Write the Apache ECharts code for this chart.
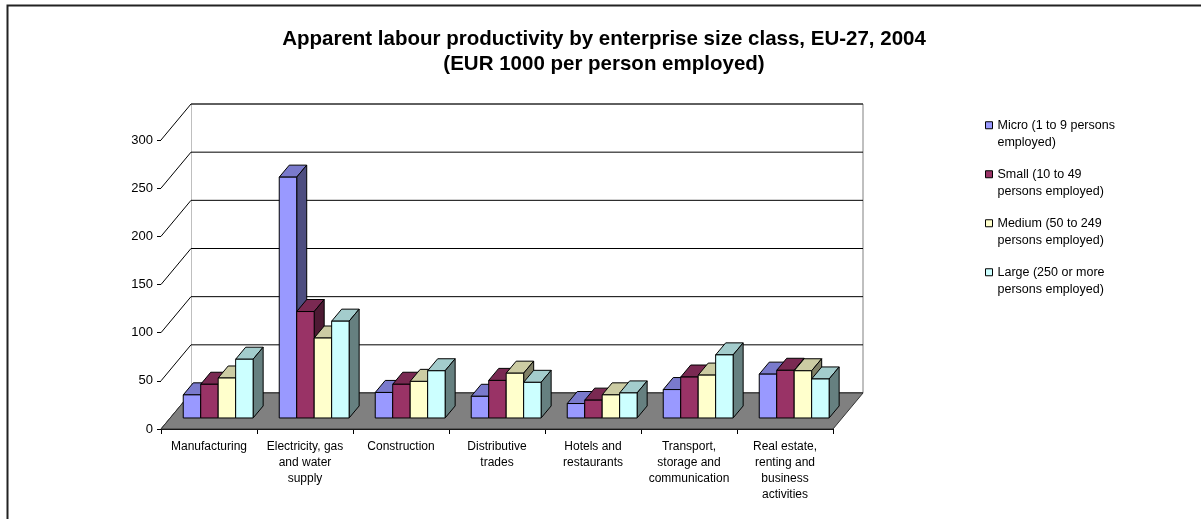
<!DOCTYPE html>
<html><head><meta charset="utf-8">
<script src="https://cdn.jsdelivr.net/npm/echarts@6/dist/echarts.min.js"></script>
<style>html,body{margin:0;padding:0;background:#fff}#c{width:1201px;height:519px}</style>
</head><body><div id="c"></div>
<script>
// ---- data ----
const categories = ['Manufacturing', 'Electricity, gas\nand water\nsupply', 'Construction', 'Distributive\ntrades', 'Hotels and\nrestaurants', 'Transport,\nstorage and\ncommunication', 'Real estate,\nrenting and\nbusiness\nactivities'];
const seriesNames = ['Micro (1 to 9 persons employed)', 'Small (10 to 49 persons employed)', 'Medium (50 to 249 persons employed)', 'Large (250 or more persons employed)'];
const legendLabels = ['Micro (1 to 9 persons\nemployed)', 'Small (10 to 49\npersons employed)', 'Medium (50 to 249\npersons employed)', 'Large (250 or more\npersons employed)'];
const micro  = [24, 250, 26.5, 22.5, 15, 29.5, 45.5];
const small  = [35, 110.5, 35, 39, 18.5, 42.5, 49.5];
const medium = [41.5, 83, 38, 46.5, 24, 44.5, 49];
const large  = [61, 100.5, 49, 37, 26, 65.5, 40.5];
const yTicks = [0, 50, 100, 150, 200, 250, 300];
const titleText = 'Apparent labour productivity by enterprise size class, EU-27, 2004\n(EUR 1000 per person employed)';

// ---- styling / projection ----
const values = [micro, small, medium, large];
const frontCol = ['#9999FF', '#993366', '#FFFFCC', '#CCFFFF'];
const topCol   = ['#7A7ACC', '#7A2952', '#CCCCA3', '#A3CCCC'];
const sideCol  = ['#4D4D80', '#4D1A33', '#808066', '#668080'];
const DX = 30, DY = -36;        // full depth offset of the 3D box
const F0 = 0.306, F1 = 0.64;    // bar depth range (fractions)
const BAR_FRAC = 0.182;         // bar width as a fraction of category width

function barRender(si) {
  return function (params, api) {
    const ci = api.value(0), v = api.value(1);
    const base = api.coord([ci, 0]);
    const top = api.coord([ci, v]);
    const cw = api.size([1, 0])[0];
    const bw = cw * BAR_FRAC;
    const x0 = base[0] - 2 * bw + si * bw + F0 * DX;
    const x1 = x0 + bw;
    const yb = base[1] + F0 * DY;
    const yt = top[1] + F0 * DY;
    const dx = (F1 - F0) * DX, dy = (F1 - F0) * DY;
    const st = { stroke: '#000', lineWidth: 1, lineJoin: 'round' };
    return { type: 'group', children: [
      { type: 'polygon', shape: { points: [[x0, yt], [x1, yt], [x1 + dx, yt + dy], [x0 + dx, yt + dy]] }, style: Object.assign({ fill: topCol[si] }, st) },
      { type: 'polygon', shape: { points: [[x1, yb], [x1, yt], [x1 + dx, yt + dy], [x1 + dx, yb + dy]] }, style: Object.assign({ fill: sideCol[si] }, st) },
      { type: 'rect', shape: { x: x0, y: yt, width: bw, height: yb - yt }, style: Object.assign({ fill: frontCol[si] }, st) }
    ]};
  };
}

function wallRender(params, api) {
  const n = categories.length;
  const c0 = api.coord([0, 0]);
  const cN = api.coord([n - 1, 0]);
  const cw = api.size([1, 0])[0];
  const xl = c0[0] - cw / 2, xr = cN[0] + cw / 2;
  const yMax = api.coord([0, yTicks[yTicks.length - 1]])[1];
  const y0 = c0[1];
  const ch = [];
  ch.push({ type: 'polygon', shape: { points: [[xl + DX, yMax + DY], [xr + DX, yMax + DY], [xr + DX, y0 + DY], [xl + DX, y0 + DY]] }, style: { fill: '#fff', stroke: '#808080', lineWidth: 1 } });
  ch.push({ type: 'polygon', shape: { points: [[xl, yMax], [xl + DX, yMax + DY], [xl + DX, y0 + DY], [xl, y0]] }, style: { fill: '#fff', stroke: null } });
  yTicks.forEach(function (t) {
    const y = api.coord([0, t])[1];
    ch.push({ type: 'polyline', shape: { points: [[xl, y], [xl + DX, y + DY], [xr + DX, y + DY]] }, style: { stroke: '#000', lineWidth: 1, fill: null } });
  });
  ch.push({ type: 'polygon', shape: { points: [[xl, y0], [xr, y0], [xr + DX, y0 + DY], [xl + DX, y0 + DY]] }, style: { fill: '#808080', stroke: '#333', lineWidth: 1 } });
  return { type: 'group', children: ch };
}

const series = [{
  type: 'custom', name: '_walls', renderItem: wallRender, data: [[0, 0]], clip: false, z: 1, silent: true
}];
values.forEach(function (arr, si) {
  series.push({
    type: 'custom', name: seriesNames[si], clip: false, z: 2,
    itemStyle: { color: frontCol[si], borderColor: '#000', borderWidth: 1 },
    renderItem: barRender(si),
    data: arr.map(function (v, i) { return [i, v]; })
  });
});

const FONT = 'Liberation Sans, Arial, sans-serif';
const chart = echarts.init(document.getElementById('c'));
chart.setOption({
  animation: false,
  backgroundColor: '#fff',
  textStyle: { fontFamily: FONT },
  title: {
    text: titleText, left: 599, top: 22, textAlign: 'center',
    textStyle: { fontSize: 20.5, fontWeight: 'bold', color: '#000', lineHeight: 25, fontFamily: FONT }
  },
  legend: {
    data: seriesNames, orient: 'vertical', left: 980, top: 94,
    icon: 'rect', itemWidth: 7, itemHeight: 7, itemGap: -3.5,
    itemStyle: { borderColor: '#000', borderWidth: 1 },
    formatter: function (name) { return ' \n' + legendLabels[seriesNames.indexOf(name)]; },
    textStyle: { fontSize: 12.5, color: '#000', lineHeight: 17.5, fontFamily: FONT }
  },
  grid: { left: 161, right: 368, top: 140, bottom: 90, containLabel: false },
  xAxis: {
    type: 'category', data: categories, boundaryGap: true,
    axisLine: { lineStyle: { color: '#000', width: 1 } },
    axisTick: { show: true, length: 5, lineStyle: { color: '#000' } },
    axisLabel: { interval: 0, color: '#000', fontSize: 12, lineHeight: 16, margin: 10 }
  },
  yAxis: {
    type: 'value', min: 0, max: 300, interval: 50,
    axisLine: { show: true, lineStyle: { color: '#000', width: 1 } },
    axisTick: { show: true, length: 4, lineStyle: { color: '#000' } },
    axisLabel: { color: '#000', fontSize: 13, margin: 8 },
    splitLine: { show: false }
  },
  graphic: [{
    type: 'rect', shape: { x: 7.5, y: 5.5, width: 1300, height: 600 },
    style: { fill: null, stroke: '#222', lineWidth: 2 }, silent: true, z: 100
  }],
  series: series
});
</script></body></html>
